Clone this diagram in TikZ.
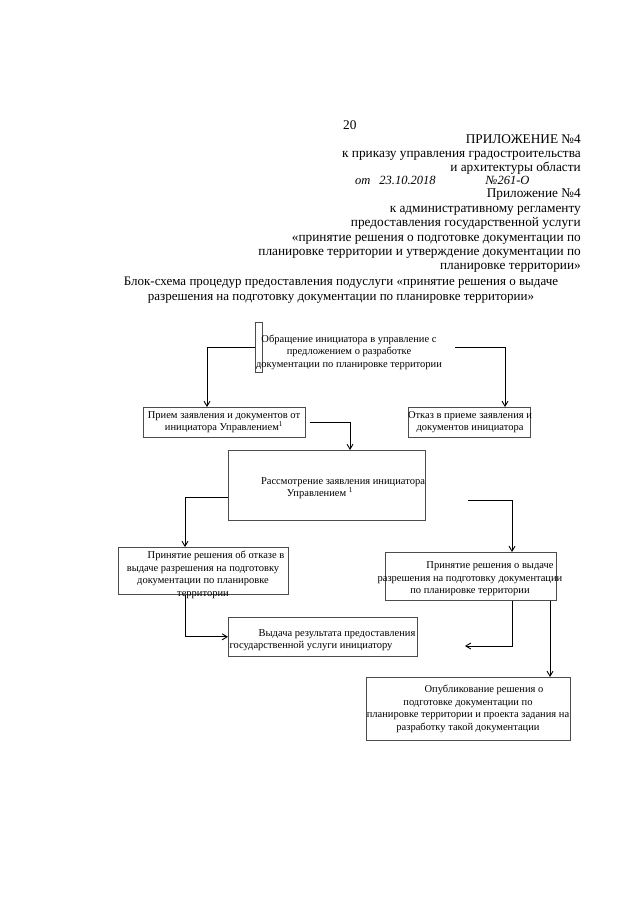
\documentclass[tikz,border=0pt]{standalone}
\usepackage{fontspec}
\setmainfont{Liberation Serif}
\usetikzlibrary{arrows.meta,calc}
\begin{document}
\begin{tikzpicture}[x=1pt,y=-1pt,
  box/.style={draw=black!70, line width=0.6pt, inner sep=0pt, anchor=north west},
  btext/.style={font=\fontsize{10.5}{12.5}\selectfont, align=center, inner sep=0pt},
  htext/.style={font=\fontsize{13.3}{14.4}\selectfont, inner sep=0pt},
  conn/.style={draw=black, line width=0.9pt, -{Straight Barb[length=5pt,width=6pt,line width=0.9pt]}}
]
\useasboundingbox[fill=white] (0,0) rectangle (640,905);

% header
\node[htext, anchor=base west] (pg) at (343,129) {20};
\node[htext, anchor=north east, align=right] (h1) at (581,134) {ПРИЛОЖЕНИЕ №4\\к приказу управления градостроительства\\и архитектуры области};
\node[anchor=base west, inner sep=0pt, font=\fontsize{12.5}{12.5}\selectfont\itshape] (hw) at (355,184.5) {от\hspace{9pt}23.10.2018\hspace{50pt}№261-О};
\node[htext, anchor=north east, align=right] (h2) at (581,189) {Приложение №4\\к административному регламенту\\предоставления государственной услуги\\«принятие решения о подготовке документации по\\планировке территории и утверждение документации по\\планировке территории»};
\node[font=\fontsize{13}{14.6}\selectfont, inner sep=0pt, align=center] (title) at (341,290) {Блок-схема процедур предоставления подуслуги «принятие решения о выдаче\\разрешения на подготовку документации по планировке территории»};

% boxes
\node[box, minimum width=7, minimum height=50] (b1) at (255,322) {};
\node[btext] (t1) at (349,352) {Обращение инициатора в управление с\\предложением о разработке\\документации по планировке территории};

\node[box, minimum width=162, minimum height=30] (b2) at (143,407) {};
\node[btext] (t2) at (224,422) {Прием заявления и документов от\\инициатора Управлением\textsuperscript{1}};

\node[box, minimum width=122, minimum height=30] (b3) at (408,407) {};
\node[btext] (t3) at (470,422) {Отказ в приеме заявления и\\документов инициатора};

\node[box, minimum width=197, minimum height=70] (b4) at (228,450) {};
\node[btext] (t4) at (320,488) {\hspace*{46pt}Рассмотрение заявления инициатора\\Управлением \textsuperscript{1}};

\node[box, minimum width=170, minimum height=47] (b5) at (118,547) {};
\node[btext] (t5) at (203,575) {\hspace*{26pt}Принятие решения об отказе в\\выдаче разрешения на подготовку\\документации по планировке\\территории};

\node[box, minimum width=171, minimum height=48] (b6) at (385,552) {};
\node[btext] (t6) at (470,579) {\hspace*{40pt}Принятие решения о выдаче\\разрешения на подготовку документации\\по планировке территории};

\node[box, minimum width=189, minimum height=39] (b7) at (228,617) {};
\node[btext] (t7) at (311,640) {\hspace*{52pt}Выдача результата предоставления\\государственной услуги инициатору};

\node[box, minimum width=204, minimum height=63] (b8) at (366,677) {};
\node[btext] (t8) at (468,709) {\hspace*{32pt}Опубликование решения о\\подготовке документации по\hspace*{12pt}\\планировке территории и проекта задания на\\разработку такой документации};

% connectors
\coordinate (r1) at (455,347);
\coordinate (r2) at ($(b2.east)+(4,0)$);
\coordinate (r3) at (468,500);
\coordinate (r4) at (465,646);

\draw[conn] (b1.west) -| ([xshift=64pt]b2.north west);
\draw[conn] (r1) -| ([xshift=97pt]b3.north west);
\draw[conn] (r2) -| ([xshift=122pt]b4.north west);
\draw[conn] ([yshift=-12pt]b4.west) -| ([xshift=67pt]b5.north west);
\draw[conn] (r3) -| ([xshift=127pt]b6.north west);
\draw[conn] ([xshift=67pt]b5.south west) |- (b7.west);
\draw[conn] ([xshift=127pt]b6.south west) |- (r4);
\draw[conn] ([xshift=165pt]b6.south west) -- ([xshift=184pt]b8.north west);
\end{tikzpicture}
\end{document}
